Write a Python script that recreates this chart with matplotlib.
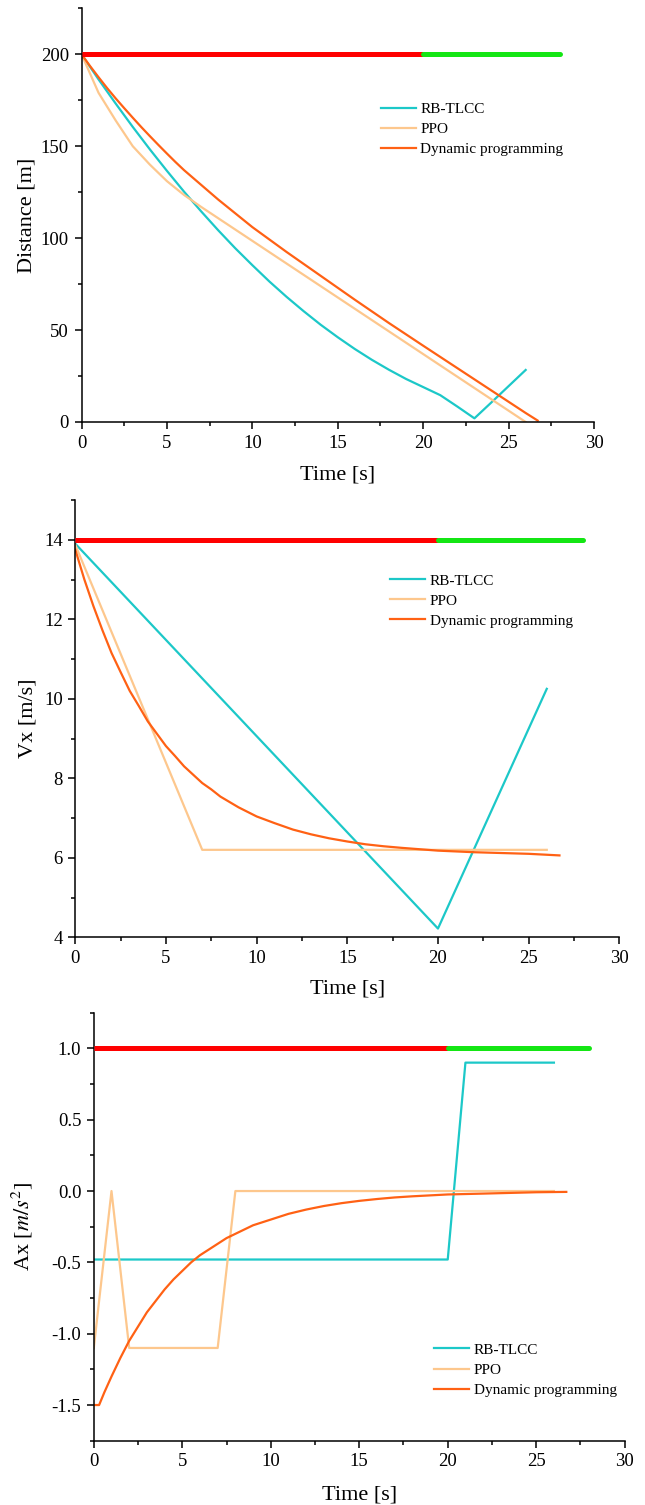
import matplotlib
matplotlib.use('Agg')
import matplotlib.pyplot as plt
from matplotlib.ticker import MultipleLocator, FuncFormatter

plt.rcParams['font.family'] = ['Liberation Serif', 'DejaVu Serif']
plt.rcParams['mathtext.fontset'] = 'stix'
plt.rcParams['axes.unicode_minus'] = False

# ---------------- data ----------------
series_names = ['RB-TLCC', 'PPO', 'Dynamic programming']
series_colors = ['#1CC8C8', '#FDC78D', '#FF6114']

signal_red_t = [0, 20]
signal_green_t = [20, 28]
signal_levels = [200, 14, 1.0]

# Distance
dist_rb_t = list(range(0, 27))
dist_rb = [200, 186.3, 173.2, 160.5, 148.3, 136.6, 125.3, 114.6, 104.3, 94.5,
           85.3, 76.4, 68.1, 60.3, 52.9, 46.1, 39.7, 33.8, 28.4, 23.4,
           19.0, 14.6, 8.4, 2.0, 10.7, 19.5, 28.3]
dist_ppo_t = [0, 1, 2, 3, 4, 5, 6, 7, 26]
dist_ppo = [200, 179, 164, 150, 140, 131, 123.5, 117, 0]
dist_dp_t = [0, 0.5, 1, 1.5, 2, 2.5, 3, 3.5, 4, 4.5, 5, 5.5, 6, 6.5, 7, 8, 9,
             10, 12, 14, 16, 18, 20, 22, 24, 26, 26.7]
dist_dp = [200, 193.6, 187.5, 181.6, 176, 170.7, 165.5, 160.4, 155.5, 150.7,
           146, 141.4, 137, 133, 129, 121, 113.5, 106, 92.5, 79.5, 66.5, 53.8,
           41.5, 29.3, 17.1, 4.9, 0.8]

# Velocity
vx_rb_t = [0, 20, 26]
vx_rb = [13.9, 4.22, 10.25]
vx_ppo_t = [0, 7, 26]
vx_ppo = [13.87, 6.2, 6.2]
vx_dp_t = [0, 0.5, 1, 1.5, 2, 2.5, 3, 3.5, 4, 4.5, 5, 5.5, 6, 6.5, 7, 7.5, 8,
           9, 10, 11, 12, 13, 14, 15, 16, 17, 18, 20, 22, 25, 26.7]
vx_dp = [13.75, 13.0, 12.33, 11.72, 11.15, 10.67, 10.2, 9.82, 9.43, 9.12,
         8.81, 8.56, 8.3, 8.09, 7.88, 7.72, 7.54, 7.27, 7.04, 6.87, 6.71,
         6.59, 6.49, 6.41, 6.34, 6.29, 6.25, 6.18, 6.14, 6.1, 6.06]

# Acceleration
ax_rb_t = [0, 20, 21, 26]
ax_rb = [-0.48, -0.48, 0.9, 0.9]
ax_ppo_t = [0, 1, 2, 7, 8, 26]
ax_ppo = [-1.1, 0, -1.1, -1.1, 0, 0]
ax_dp_t = [0, 0.3, 0.6, 1, 1.5, 2, 2.5, 3, 3.5, 4, 4.5, 5, 5.5, 6, 6.5, 7, 7.5,
           8, 9, 10, 11, 12, 13, 14, 15, 16, 17, 18, 20, 22, 25, 26.7]
ax_dp = [-1.5, -1.5, -1.41, -1.3, -1.17, -1.05, -0.95, -0.85, -0.77, -0.69,
         -0.62, -0.56, -0.50, -0.45, -0.41, -0.37, -0.33, -0.30, -0.24, -0.20,
         -0.16, -0.13, -0.105, -0.085, -0.069, -0.056, -0.045, -0.037, -0.024,
         -0.018, -0.0085, -0.006]

ylabels = ['Distance [m]', 'Vx [m/s]', r'Ax [$m/s^2$]']

# ---------------- figure ----------------
W, H = 645, 1505
fig = plt.figure(figsize=(W / 100, H / 100), dpi=100)

def frac(l, r, t, b):
    return [l / W, 1 - b / H, (r - l) / W, (b - t) / H]

panels = [
    dict(rect=frac(81.5, 594, 8.3, 422), ylim=(0, 225), ymaj=50, ymin=25,
         fmt=lambda v, p: f'{v:.0f}',
         data=[(dist_rb_t, dist_rb), (dist_ppo_t, dist_ppo), (dist_dp_t, dist_dp)],
         leg=(0.5836, 0.773), ylab_x=-0.088, xlab_y=-0.104),
    dict(rect=frac(75.3, 619.3, 500, 937.3), ylim=(4, 15), ymaj=2, ymin=1,
         fmt=lambda v, p: f'{v:.0f}',
         data=[(vx_rb_t, vx_rb), (vx_ppo_t, vx_ppo), (vx_dp_t, vx_dp)],
         leg=(0.5785, 0.831), ylab_x=-0.0695, xlab_y=-0.096),
    dict(rect=frac(93.8, 624.7, 1012.7, 1440.7), ylim=(-1.75, 1.25), ymaj=0.5, ymin=0.25,
         fmt=lambda v, p: f'{v:.1f}',
         data=[(ax_rb_t, ax_rb), (ax_ppo_t, ax_ppo), (ax_dp_t, ax_dp)],
         leg=(0.6408, 0.228), ylab_x=-0.110, xlab_y=-0.105),
]

for i, p in enumerate(panels):
    ax = fig.add_axes(p['rect'])
    lvl = signal_levels[i]
    ax.plot(signal_red_t, [lvl, lvl], color='#FF0000', lw=3.6,
            solid_capstyle='butt', zorder=3)
    ax.plot(signal_green_t, [lvl, lvl], color='#14E614', lw=3.6,
            solid_capstyle='round', zorder=3)
    for (t, v), name, col in zip(p['data'], series_names, series_colors):
        ax.plot(t, v, color=col, lw=1.6, label=name, zorder=2)
    ax.set_xlim(0, 30)
    ax.set_ylim(*p['ylim'])
    ax.xaxis.set_major_locator(MultipleLocator(5))
    ax.xaxis.set_minor_locator(MultipleLocator(2.5))
    ax.yaxis.set_major_locator(MultipleLocator(p['ymaj']))
    ax.yaxis.set_minor_locator(MultipleLocator(p['ymin']))
    ax.yaxis.set_major_formatter(FuncFormatter(p['fmt']))
    for s in ['top', 'right']:
        ax.spines[s].set_visible(False)
    for s in ['left', 'bottom']:
        ax.spines[s].set_linewidth(1.1)
    ax.tick_params(which='major', direction='out', length=5, width=1.1,
                   labelsize=13.5, pad=4)
    ax.tick_params(which='minor', direction='out', length=2.8, width=1.1)
    ax.set_xlabel('Time [s]', fontsize=16)
    ax.set_ylabel(ylabels[i], fontsize=16)
    ax.xaxis.set_label_coords(0.5, p['xlab_y'])
    ax.yaxis.set_label_coords(p['ylab_x'], 0.5)
    ax.legend(loc='upper left', bbox_to_anchor=p['leg'], frameon=False,
              fontsize=11, handlelength=2.3, handletextpad=0.3,
              labelspacing=0.42, borderpad=0, borderaxespad=0)

fig.savefig('out.png', dpi=100)
